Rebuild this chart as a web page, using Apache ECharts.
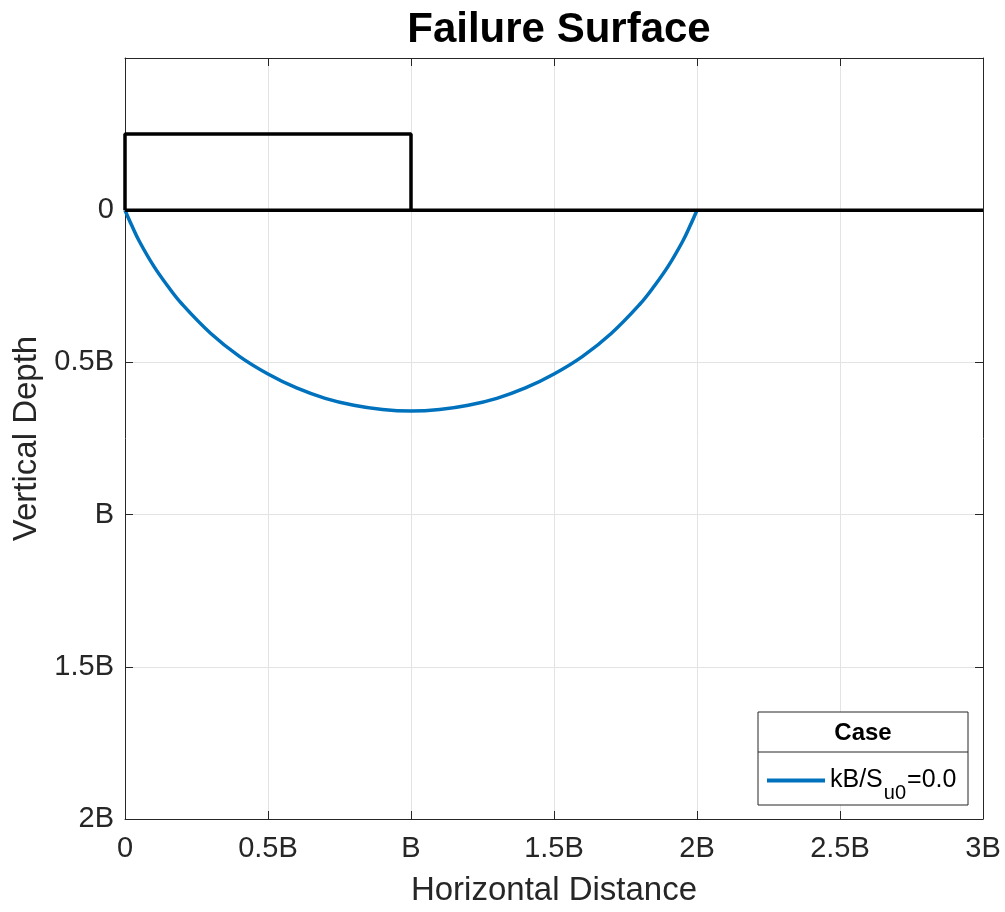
<!DOCTYPE html>
<html>
<head>
<meta charset="utf-8">
<script src="https://cdn.jsdelivr.net/npm/echarts@6/dist/echarts.min.js"></script>
<style>
  html, body { margin: 0; padding: 0; background: #fff; }
  #chart { width: 1005px; height: 912px; }
</style>
</head>
<body>
<div id="chart"></div>
<script>
// failure surface (x in B, depth in B)
const surfX = [0, 0.025, 0.05, 0.1, 0.15, 0.2, 0.3, 0.4, 0.5, 0.6, 0.7, 0.8, 0.9, 1.0,
  1.1, 1.2, 1.3, 1.4, 1.5, 1.6, 1.7, 1.8, 1.85, 1.9, 1.95, 1.975, 2.0]
const surfDepth = [0, 0.053, 0.102, 0.183, 0.250, 0.309, 0.405, 0.480, 0.538, 0.584, 0.618, 0.641, 0.655, 0.660,
  0.655, 0.641, 0.618, 0.584, 0.538, 0.480, 0.405, 0.309, 0.250, 0.183, 0.102, 0.053, 0]
// footing outline and ground surface
const footX = [0, 0, 1, 1]
const footDepth = [0, -0.25, -0.25, 0]
const groundX = [0, 3]
const groundDepth = [0, 0]
const tickLabels = { '0': '0', '0.5': '0.5B', '1': 'B', '1.5': '1.5B', '2': '2B', '2.5': '2.5B', '3': '3B' }
const caseName = 'kB/S_u0=0.0'

function pairs(xs, ys) {
  return xs.map((x, i) => [x, ys[i]])
}
function fmt(v) {
  if (v < 0) return ''
  return tickLabels[String(v)] || ''
}

const axisColor = '#262626'
const gridColor = '#e3e3e3'
const font = 'Liberation Sans'

let option = {
  backgroundColor: '#ffffff',
  animation: false,
  title: {
    text: 'Failure Surface',
    left: 554,
    top: 4,
    textAlign: 'center',
    textStyle: { fontFamily: font, fontSize: 42, fontWeight: 'bold', color: '#000' }
  },
  grid: { left: 125, right: 22, top: 58, bottom: 92 },
  legend: {
    data: [caseName],
    left: 762,
    top: 763,
    z: 100,
    icon: 'path://M0,0 L60,0 L60,4 L0,4 Z',
    itemWidth: 58,
    itemHeight: 4,
    itemGap: 4,
    textStyle: {
      fontFamily: font, fontSize: 25, color: '#000',
      rich: {
        a: { fontFamily: font, fontSize: 25, color: '#000' },
        sub: { fontFamily: font, fontSize: 20, color: '#000', padding: [26, 1, 0, 1] }
      }
    },
    formatter: () => '{a|kB/S}{sub|u0}{a|=0.0}'
  },
  graphic: [
    {
      type: 'rect',
      shape: { x: 758, y: 712, width: 210, height: 93 },
      style: { fill: '#fff', stroke: '#262626', lineWidth: 1 },
      z: 50
    },
    {
      type: 'line',
      shape: { x1: 758, y1: 752, x2: 968, y2: 752 },
      style: { stroke: '#262626', lineWidth: 1 },
      z: 51
    },
    {
      type: 'text',
      x: 863, y: 733,
      style: { text: 'Case', fontFamily: font, fontSize: 24, fontWeight: 'bold', fill: '#000', align: 'center', verticalAlign: 'middle' },
      z: 51
    }
  ],
  xAxis: [{
    type: 'value',
    min: 0, max: 3, interval: 0.5,
    name: 'Horizontal Distance',
    nameLocation: 'middle',
    nameGap: 55,
    nameTextStyle: { fontFamily: font, fontSize: 33, color: axisColor },
    axisLine: { show: true, onZero: false, lineStyle: { color: axisColor, width: 1 } },
    axisTick: { show: true, inside: true, length: 8, lineStyle: { color: axisColor } },
    axisLabel: { formatter: fmt, margin: 15, fontFamily: font, fontSize: 29, color: axisColor },
    splitLine: { show: true, lineStyle: { color: gridColor, width: 1 } }
  }, {
    type: 'value',
    position: 'top',
    min: 0, max: 3, interval: 0.5,
    axisLine: { show: true, onZero: false, lineStyle: { color: axisColor, width: 1 } },
    axisTick: { show: true, inside: true, length: 8, lineStyle: { color: axisColor } },
    axisLabel: { show: false },
    splitLine: { show: false }
  }],
  yAxis: [{
    type: 'value',
    inverse: true,
    min: -0.5, max: 2, interval: 0.5,
    name: 'Vertical Depth',
    nameLocation: 'middle',
    nameGap: 72,
    nameTextStyle: { fontFamily: font, fontSize: 33, color: axisColor },
    axisLine: { show: true, onZero: false, lineStyle: { color: axisColor, width: 1 } },
    axisTick: { show: true, inside: true, length: 8, lineStyle: { color: axisColor } },
    axisLabel: { formatter: fmt, margin: 11, fontFamily: font, fontSize: 29, color: axisColor },
    splitLine: { show: true, lineStyle: { color: gridColor, width: 1 } }
  }, {
    type: 'value',
    position: 'right',
    inverse: true,
    min: -0.5, max: 2, interval: 0.5,
    axisLine: { show: true, onZero: false, lineStyle: { color: axisColor, width: 1 } },
    axisTick: { show: true, inside: true, length: 8, lineStyle: { color: axisColor } },
    axisLabel: { show: false },
    splitLine: { show: false }
  }],
  series: [
    {
      name: 'ground',
      type: 'line',
      data: pairs(groundX, groundDepth),
      showSymbol: false,
      clip: false,
      lineStyle: { color: '#000', width: 3.5 },
      z: 5
    },
    {
      name: 'footing',
      type: 'line',
      data: pairs(footX, footDepth),
      showSymbol: false,
      clip: false,
      lineStyle: { color: '#000', width: 3.5 },
      z: 5
    },
    {
      name: caseName,
      type: 'line',
      smooth: 0.4,
      data: pairs(surfX, surfDepth),
      showSymbol: false,
      color: '#0072BD',
      lineStyle: { color: '#0072BD', width: 3.5 },
      z: 4
    }
  ]
}

let chart = echarts.init(document.getElementById('chart'))
chart.setOption(option)
</script>
</body>
</html>
